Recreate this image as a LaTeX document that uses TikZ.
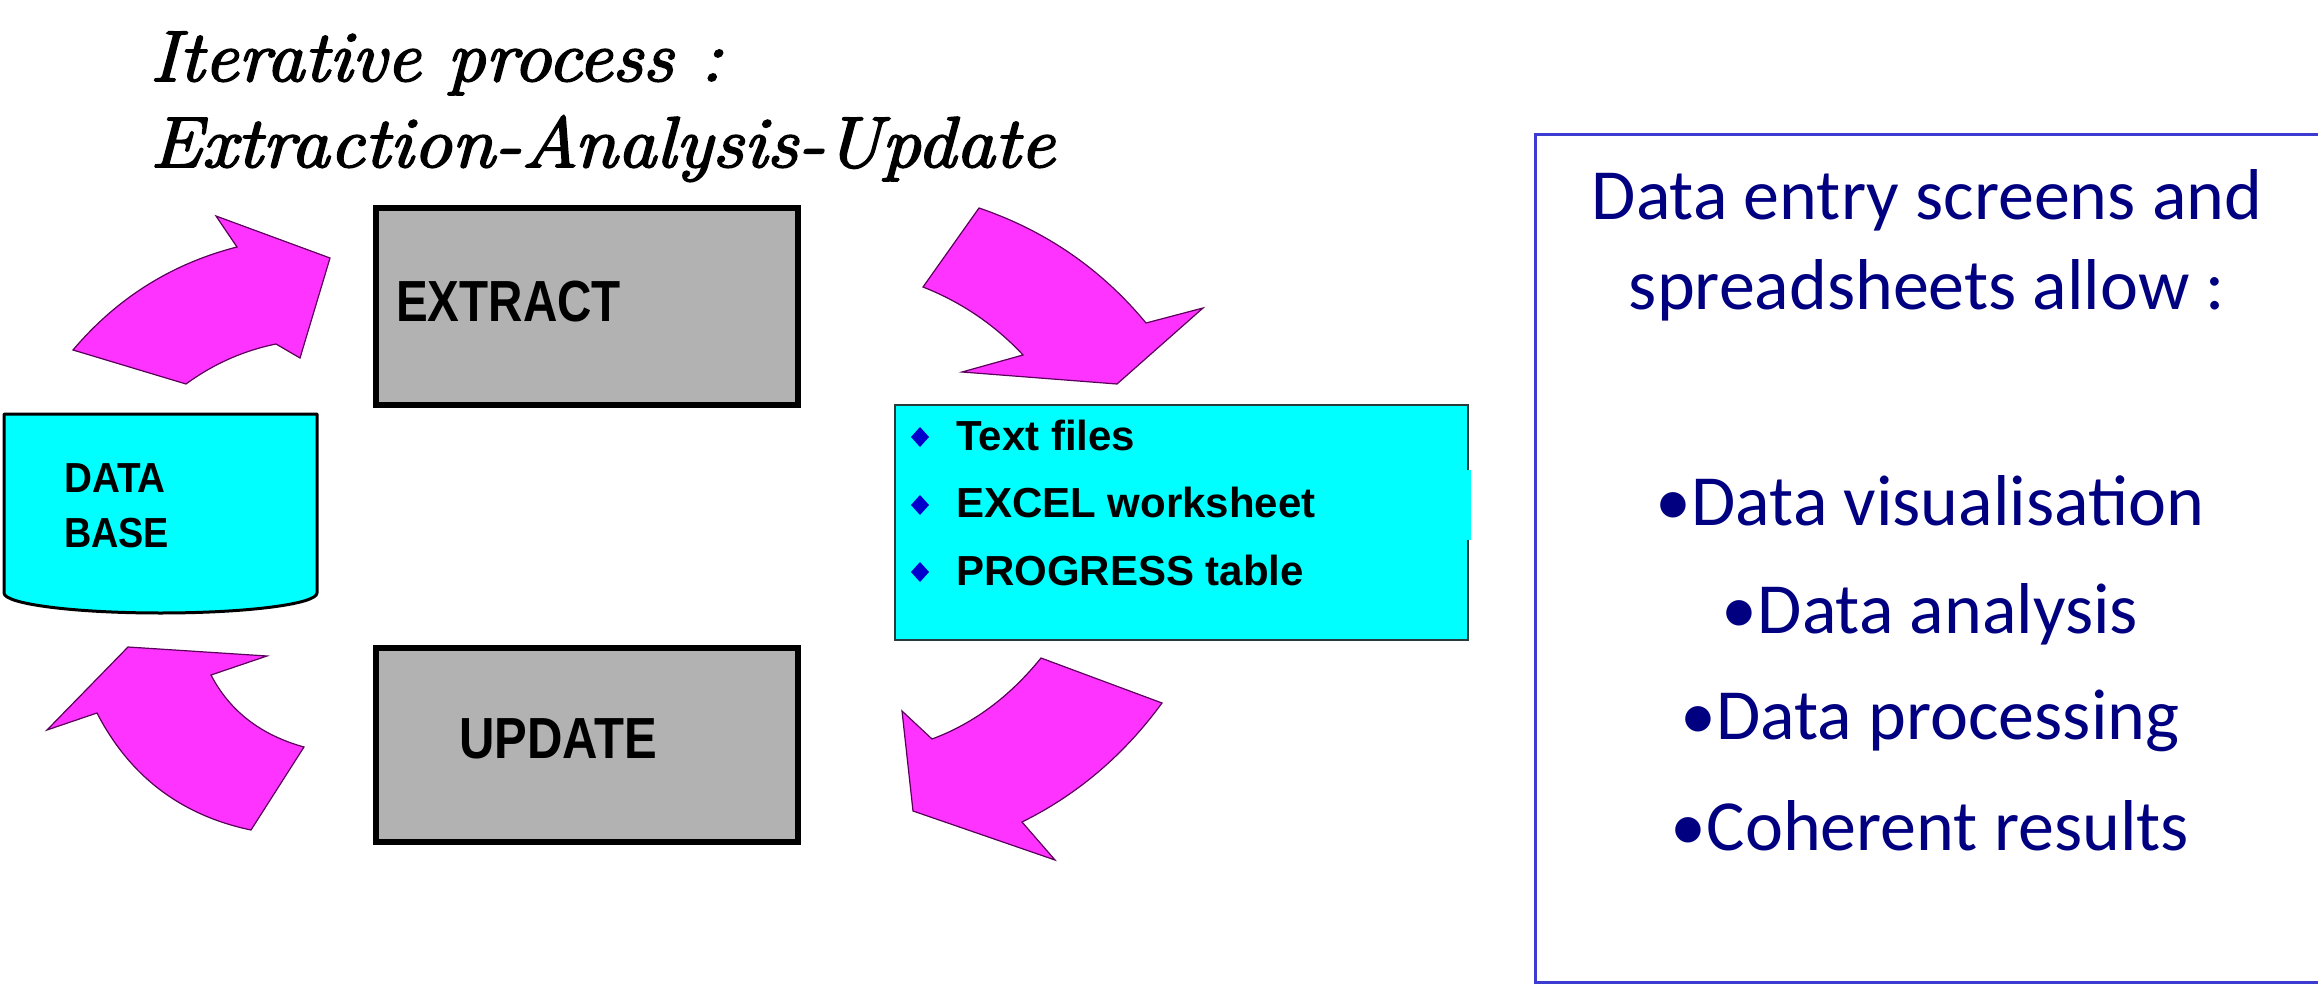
\documentclass[tikz,border=0pt]{standalone}
\usepackage{fontspec}
\usepackage{graphicx}
\usetikzlibrary{calc}
\newfontfamily\arialfont{Liberation Sans}
\newfontfamily\calfont{Carlito}
\newfontfamily\titlefont[FakeBold=2.5]{Latin Modern Roman}
\definecolor{mag}{RGB}{255,51,255}
\definecolor{magline}{RGB}{90,0,90}
\definecolor{cyanfill}{RGB}{0,255,255}
\definecolor{boxgray}{RGB}{178,178,178}
\definecolor{navytext}{RGB}{0,0,128}
\definecolor{frameblue}{RGB}{60,60,210}
\definecolor{diamondblue}{RGB}{0,0,204}
\definecolor{listframe}{RGB}{40,60,60}
\tikzset{
  graybox/.style={draw=black, line width=6pt, fill=boxgray, inner sep=0pt, anchor=north west},
  boxlabel/.style={font=\arialfont\bfseries\fontsize{58}{60}\selectfont, anchor=base west, inner sep=0pt},
  dblabel/.style={font=\arialfont\bfseries\fontsize{42}{44}\selectfont, anchor=base west, inner sep=0pt},
  blockarrow/.style={fill=mag, draw=magline, line width=1.2pt, line join=miter},
  listitem/.style={font=\arialfont\bfseries\fontsize{42}{48}\selectfont, anchor=base west, inner sep=0pt},
  bulletdiamond/.style={fill=diamondblue},
  infoline/.style={font=\calfont\fontsize{72}{86}\selectfont, text=navytext, anchor=base, inner sep=0pt},
  titleline/.style={font=\titlefont\itshape\fontsize{72}{86}\selectfont, anchor=base west, inner sep=0pt},
}
\begin{document}
\begin{tikzpicture}[x=1pt, y=-1pt]
\useasboundingbox (0,0) rectangle (2318,984);
\fill[white] (0,0) rectangle (2318,984);

% title
\node[titleline] (title1) at (150,81) {\scalebox{1.06}[1]{Iterative process :}};
\node[titleline] (title2) at (150,167) {\scalebox{1.08}[1]{Extraction-Analysis-Update}};

% gray boxes
\node[graybox, minimum width=422pt, minimum height=197pt] (extract) at (373,205) {};
\node[boxlabel] (extractlbl) at (396,322) {\scalebox{0.82}[1]{EXTRACT}};
\node[graybox, minimum width=422pt, minimum height=194pt] (update) at (373,645) {};
\node[boxlabel] (updatelbl) at (459,758) {\scalebox{0.845}[1]{UPDATE}};

% database
\draw[fill=cyanfill, line width=3pt, line join=round]
  (4,414) -- (317,414) -- (317,593)
  .. controls (317,604) and (247,613) .. (160.5,613)
  .. controls (74,613) and (4,604) .. (4,593) -- cycle;
\node[dblabel] (dbl1) at (64,492) {\scalebox{0.92}[1]{DATA}};
\node[dblabel] (dbl2) at (64,547) {\scalebox{0.9}[1]{BASE}};

% list box
\node[fill=cyanfill, inner sep=0pt, minimum width=573pt, minimum height=235pt, anchor=north west] (filesbox) at (895,405) {};
\fill[cyanfill] (1466,470) rectangle (1471,540);
\draw[listframe, line width=2pt]
  ($(filesbox.north east)+(0,65)$) -- (filesbox.north east) -- (filesbox.north west)
  -- (filesbox.south west) -- (filesbox.south east) -- ($(filesbox.south east)+(0,-100)$);
\foreach \yy in {437,505,572} {
  \fill[bulletdiamond] (920,\yy-10) -- (929,\yy) -- (920,\yy+10) -- (911,\yy) -- cycle;
}
\node[listitem] (item1) at (956,450) {Text files};
\node[listitem] (item2) at (956,517) {EXCEL worksheet};
\node[listitem] (item3) at (956,585) {PROGRESS table};

% block arrows
\draw[blockarrow] (73,350) -- (186,384) .. controls (213.3,364) and (243.3,350.7) .. (276,344)
  -- (300,358) -- (330,258) -- (216,216) -- (237,247)
  .. controls (171.7,263.7) and (117,298) .. (73,350) -- cycle;
\draw[blockarrow] (979,208) .. controls (1045.7,230.7) and (1101.3,269) .. (1146,323)
  -- (1203,308) -- (1117,384) -- (962,372) -- (1023,355)
  .. controls (995,325) and (961.7,302.3) .. (923,287) -- cycle;
\draw[blockarrow] (1041,658) -- (1162,703) .. controls (1124,755) and (1077.3,794.7) .. (1022,822)
  -- (1055,860) -- (913,811) -- (902,711) -- (932,739)
  .. controls (973.3,723.7) and (1009.7,696.7) .. (1041,658) -- cycle;
\draw[blockarrow] (47,730) -- (128,647) -- (267,656) -- (211,675)
  .. controls (229.7,711) and (260.7,735) .. (304,747) -- (251,830)
  .. controls (181,815.3) and (129.7,776.3) .. (97,713) -- cycle;

% right info box
\draw[frameblue, line width=3pt] (1535,135) rectangle (2335,982);
\node[infoline] (info1) at (1927,220) {Data entry screens and};
\node[infoline] (info2) at (1927,309) {spreadsheets allow :};
\node[infoline] (info3) at (1930,525) {•Data visualisation};
\node[infoline] (info4) at (1930,633) {•Data analysis};
\node[infoline] (info5) at (1930,739) {•Data processing};
\node[infoline] (info6) at (1930,850) {•Coherent results};
\end{tikzpicture}
\end{document}
